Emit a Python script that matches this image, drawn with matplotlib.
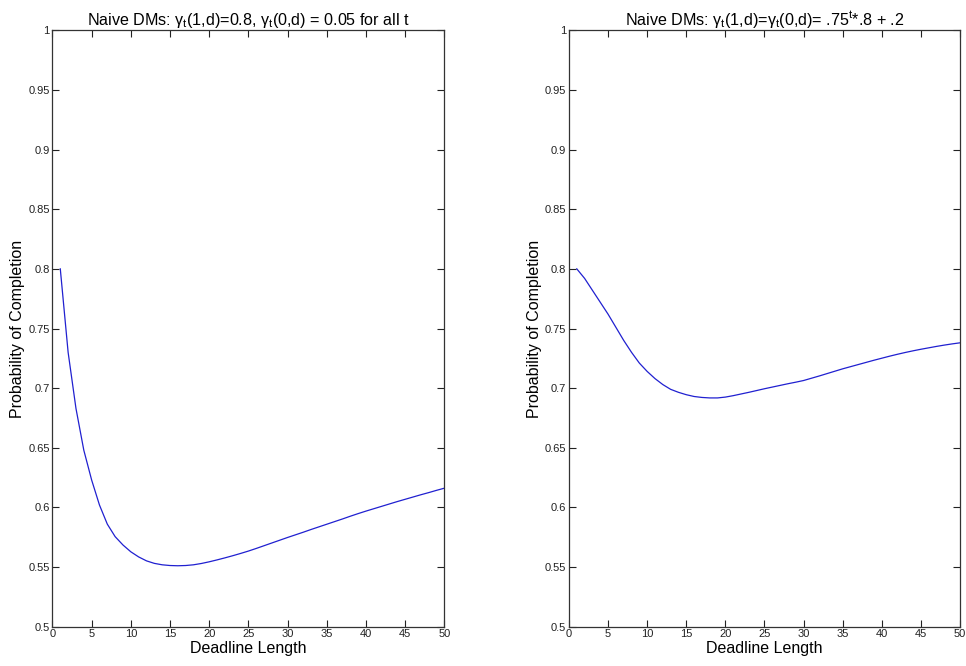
import matplotlib.pyplot as plt
from matplotlib.ticker import FuncFormatter

plt.rcParams['font.family'] = ['Liberation Sans', 'DejaVu Sans']
plt.rcParams['mathtext.fontset'] = 'custom'
plt.rcParams['mathtext.rm'] = 'Liberation Sans'
plt.rcParams['mathtext.it'] = 'Liberation Sans'

deadline = list(range(1, 51))

# constant gamma
p_const = [0.800, 0.730, 0.683, 0.648, 0.623, 0.602, 0.586, 0.5755, 0.5685, 0.5628,
           0.5585, 0.5552, 0.5531, 0.5519, 0.5513, 0.5511, 0.5513, 0.5519, 0.5530, 0.5544,
           0.5560, 0.5577, 0.5595, 0.5614, 0.5634, 0.5656, 0.5679, 0.5702, 0.5725, 0.5748,
           0.5770, 0.5792, 0.5815, 0.5837, 0.5859, 0.5881, 0.5903, 0.5926, 0.5948, 0.5969,
           0.5989, 0.6009, 0.6029, 0.6049, 0.6068, 0.6087, 0.6106, 0.6124, 0.6143, 0.6161]

# decaying gamma
p_decay = [0.800, 0.792, 0.782, 0.772, 0.762, 0.751, 0.740, 0.730, 0.721, 0.714,
           0.708, 0.703, 0.699, 0.6965, 0.6945, 0.6930, 0.6922, 0.6918, 0.6918, 0.6925,
           0.6937, 0.6951, 0.6965, 0.6980, 0.6995, 0.7009, 0.7023, 0.7037, 0.7050, 0.7064,
           0.7083, 0.7102, 0.7122, 0.7142, 0.7162, 0.7180, 0.7198, 0.7216, 0.7234, 0.7251,
           0.7268, 0.7284, 0.7299, 0.7313, 0.7326, 0.7338, 0.7350, 0.7361, 0.7371, 0.7380]

titles = [r"Naive DMs: $\gamma_t$(1,d)=0.8, $\gamma_t$(0,d) = 0.05 for all t",
          r"Naive DMs: $\gamma_t$(1,d)=$\gamma_t$(0,d)= .75$^t$*.8 + .2"]

xticks = list(range(0, 51, 5))
yticks = [0.5, 0.55, 0.6, 0.65, 0.7, 0.75, 0.8, 0.85, 0.9, 0.95, 1.0]

fig = plt.figure(figsize=(9.66, 6.66), dpi=100)
ax1 = fig.add_axes([0.0543, 0.059, 0.4056, 0.8955])
ax2 = fig.add_axes([0.589, 0.059, 0.4048, 0.8955])

for ax, y, title in [(ax1, p_const, titles[0]), (ax2, p_decay, titles[1])]:
    ax.plot(deadline, y, color='#2020d0', linewidth=0.9)
    ax.set_xlim(0, 50)
    ax.set_ylim(0.5, 1)
    ax.set_xticks(xticks)
    ax.set_yticks(yticks)
    ax.yaxis.set_major_formatter(FuncFormatter(lambda v, p: '%g' % v))
    ax.tick_params(direction='in', length=5, width=0.8, top=True, right=True,
                   labelsize=8, colors='#222222', pad=2)
    for s in ax.spines.values():
        s.set_color('#333333')
        s.set_linewidth(0.9)
    ax.set_title(title, fontsize=11.6, pad=4)
    ax.set_xlabel('Deadline Length', fontsize=11.5, labelpad=1)
    ax.set_ylabel('Probability of Completion', fontsize=11.5, labelpad=2)

fig.savefig('out.png', dpi=100)
